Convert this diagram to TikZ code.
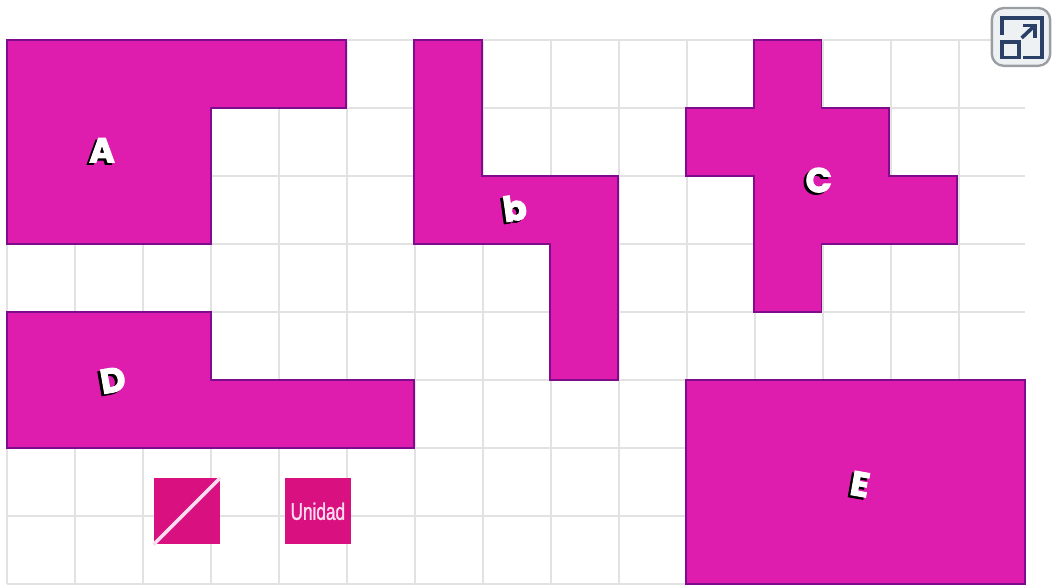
\documentclass[tikz,border=0pt]{standalone}
\usepackage{fontspec}
\setsansfont{Liberation Sans}
\newfontfamily\letterfont[BoldFeatures={FakeBold=3}]{Poppins}
\newfontfamily\unitfont[FakeStretch=0.72,FakeBold=1.2]{Liberation Sans}
\usepackage{xcolor}
\definecolor{shapefill}{HTML}{DE1CAE}
\definecolor{shapeedge}{HTML}{7F0C8C}
\definecolor{unitfill}{HTML}{D9107F}
\definecolor{unitline}{HTML}{FCDDF0}
\definecolor{gridline}{HTML}{E2E2E2}
\definecolor{iconink}{HTML}{2B4066}
\definecolor{iconback}{HTML}{EEF1F4}
\definecolor{iconedge}{HTML}{9A9EA3}
\tikzset{
  figure/.style={fill=shapefill, draw=shapeedge, line width=0.8pt, line join=miter},
  unitbox/.style={fill=unitfill, minimum size=0.97cm, inner sep=0pt},
  letter/.style={text=white, font=\letterfont\bfseries\Large},
  lettershade/.style={text=black, font=\letterfont\bfseries\Large},
  iconstroke/.style={iconink, line width=1.5pt},
}
\begin{document}
\begin{tikzpicture}[x=0.998cm]
  \useasboundingbox (-0.103,0) rectangle (15.397,8.588);
  \draw[gridline, line width=0.8pt] (0,0) grid (15,8);
  % figures
  \draw[figure] (0,8) -- (5,8) -- (5,7) -- (3,7) -- (3,5) -- (0,5) -- cycle;
  \draw[figure] (6,8) -- (7,8) -- (7,6) -- (9,6) -- (9,3) -- (8,3) -- (8,5) -- (6,5) -- cycle;
  \draw[figure] (11,8) -- (12,8) -- (12,7) -- (13,7) -- (13,6) -- (14,6) -- (14,5) -- (12,5)
    -- (12,4) -- (11,4) -- (11,6) -- (10,6) -- (10,7) -- (11,7) -- cycle;
  \draw[figure] (0,4) -- (3,4) -- (3,3) -- (6,3) -- (6,2) -- (0,2) -- cycle;
  \draw[figure] (10,3) -- (15,3) -- (15,0) -- (10,0) -- cycle;
  % letters
  \node[lettershade] at (1.36,6.35) {A};
  \node[letter] (labelA) at (1.40,6.38) {A};
  \node[lettershade, rotate=8] at (7.44,5.50) {b};
  \node[letter, rotate=8] (labelB) at (7.48,5.53) {b};
  \node[lettershade] at (11.92,5.91) {C};
  \node[letter] (labelC) at (11.96,5.94) {C};
  \node[lettershade, rotate=10] at (1.52,2.97) {D};
  \node[letter, rotate=10] (labelD) at (1.56,3.00) {D};
  \node[lettershade, rotate=-10] at (12.53,1.44) {E};
  \node[letter, rotate=-10] (labelE) at (12.57,1.47) {E};
  % unit squares
  \node[unitbox] (half) at (2.65,1.07) {};
  \draw[unitline, line width=1.5pt] (half.south west) -- (half.north east);
  \node[unitbox, text=unitline, font=\unitfont\normalsize] (unit) at (4.58,1.07) {Unidad};
  % fullscreen button
  \draw[iconedge, fill=iconback, line width=1pt, rounded corners=5pt] (14.51,7.62) rectangle (15.37,8.47);
  \draw[iconstroke] (14.66,8.07) -- (14.66,8.32) -- (15.25,8.32) -- (15.25,7.74) -- (14.97,7.74);
  \draw[iconstroke] (14.66,7.74) rectangle (14.91,7.97);
  \draw[iconstroke] (14.95,8.03) -- (15.14,8.21);
  \draw[iconstroke] (14.97,8.21) -- (15.15,8.21) -- (15.15,8.03);
\end{tikzpicture}
\end{document}
